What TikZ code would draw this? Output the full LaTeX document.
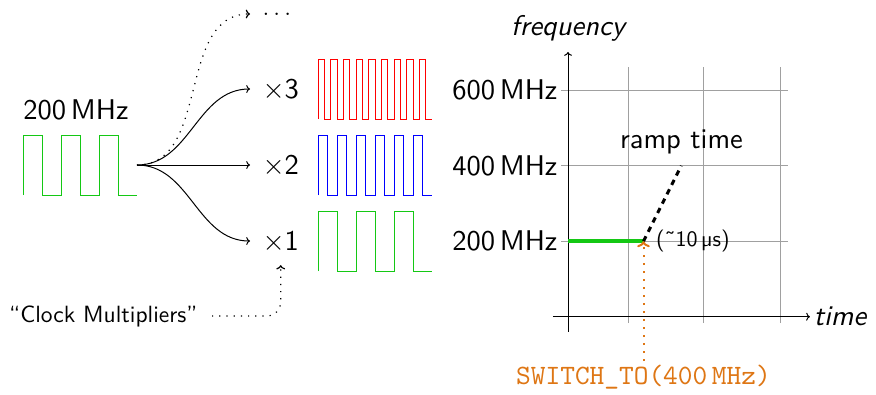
\documentclass[tikz,border=0pt]{standalone}
\usepackage{fontspec}
\setsansfont{lmsans10-regular.otf}[ItalicFont=lmsans10-oblique.otf,BoldFont=lmsans10-bold.otf]
\setmonofont{lmmono10-regular.otf}
\renewcommand{\familydefault}{\sfdefault}
\usetikzlibrary{arrows.meta}
\definecolor{clkgreen}{RGB}{20,200,20}
\definecolor{sworange}{RGB}{222,118,20}
\definecolor{gridgray}{RGB}{160,160,160}
\begin{document}
\begin{tikzpicture}[x=1pt,y=-1pt,line width=1pt,
  big/.style={font=\fontsize{28.5}{34}\selectfont},
  mult/.style={big,anchor=west,inner xsep=12pt,inner ysep=14pt},
  dotline/.style={dash pattern=on 1.2pt off 6pt,line width=1.2pt},
  gridline/.style={gridgray,line width=0.9pt},
  wave/.style={line width=0.9pt}]
\useasboundingbox (0,0) rectangle (876,394);

% ---- left part: clocks and multipliers
\node[big,anchor=base] (f200) at (76,119) {200\,MHz};
\draw[wave,clkgreen] (23,195) foreach \i in {1,...,3} { -- ++(0,-60) -- ++(19,0) -- ++(0,60) -- ++(19,0) };
\coordinate (clk) at (137,165);

\node[mult] (x3) at (250,89) {×3};
\node[mult] (x2) at (250,165) {×2};
\node[mult] (x1) at (250,241) {×1};
\node[big,anchor=west,inner xsep=12pt,inner ysep=1pt] (dots) at (250,14) {$\dots$};

\draw[->] (clk) -- (x2.west);
\draw[->] (clk) to[out=0,in=180] (x3.west);
\draw[->] (clk) to[out=0,in=180] (x1.west);
\draw[->,dotline] (clk) to[out=0,in=180] (dots.west);

\draw[wave,red] (318,119) foreach \i in {1,...,9} { -- ++(0,-60) -- ++(6.333,0) -- ++(0,60) -- ++(6.333,0) };
\draw[wave,blue] (318,195) foreach \i in {1,...,6} { -- ++(0,-60) -- ++(9.5,0) -- ++(0,60) -- ++(9.5,0) };
\draw[wave,clkgreen] (318,271) foreach \i in {1,...,3} { -- ++(0,-60) -- ++(19,0) -- ++(0,60) -- ++(19,0) };

\node[font=\fontsize{23.5}{28}\selectfont,anchor=east,inner xsep=14pt] (cm) at (212,316) {“Clock Multipliers”};
\draw[->,dotline,rounded corners=14pt] (cm.east) -| (x1.south);

% ---- right part: frequency chart
\begin{scope}[shift={(568,316.7)},x=75.5pt,y=75.5pt]
  \foreach \gx in {0.8,1.8,2.81} \draw[gridline] (\gx,-0.085) -- (\gx,3.31);
  \foreach \gy in {1,2,3} \draw[gridline] (-0.09,\gy) -- (2.91,\gy);
  \draw[->] (0,-0.2) -- (0,3.506);
  \draw[->] (-0.2,0) -- (3.205,0);
  \node[big,anchor=base] (freq) at (0,3.73) {\itshape frequency};
  \node[big,anchor=west] (time) at (3.205,0) {\itshape time};
  \node[big,anchor=east] (m200) at (-0.09,1) {200\,MHz};
  \node[big,anchor=east] (m400) at (-0.09,2) {400\,MHz};
  \node[big,anchor=east] (m600) at (-0.09,3) {600\,MHz};
  \coordinate (sw0) at (1,1);
  \coordinate (r1) at (1.5,2);
  \draw[clkgreen,line width=3.5pt] (0,1) -- (sw0);
  \draw[line width=3pt,dash pattern=on 5.5pt off 5pt] (sw0) -- (r1);
  \node[big,anchor=base] (ramp) at (1.503,2.23) {ramp time};
  \node[font=\fontsize{22}{26}\selectfont,anchor=west,inner xsep=12pt] (us) at (sw0) {(˜10\,µs)};
  \node[sworange,font=\fontsize{28}{34}\selectfont\ttfamily] (sw) at (1.0,-0.8) {SWITCH\_TO(400\,MHz)};
  \draw[->,sworange,line width=2pt,dash pattern=on 2pt off 6pt] (sw.north) -- (sw0);
\end{scope}
\end{tikzpicture}
\end{document}
